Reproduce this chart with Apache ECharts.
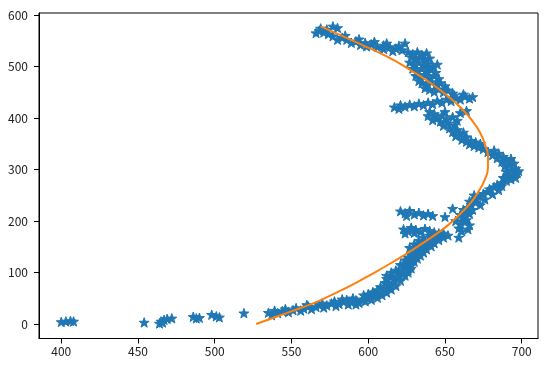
<!DOCTYPE html>
<html>
<head>
<meta charset="utf-8">
<script src="https://cdn.jsdelivr.net/npm/echarts@6/dist/echarts.min.js"></script>
<style>
html,body{margin:0;padding:0;background:#fff;}
#chart{width:555px;height:375px;}
</style>
</head>
<body>
<div id="chart"></div>
<script>
// Tick labels
const xTicks = [400, 450, 500, 550, 600, 650, 700];
const yTicks = [0, 100, 200, 300, 400, 500, 600];

// Scatter points (x, y)
const stragglers = [[400,4],[403,5],[406,6],[408,5],[454,3],[464,1],[465,5],[467,8],[469,10],[472,11],[466,3],
  [486,14],[488,11],[490,12],[498,18],[501,15],[503,13],[519,21]];
const lowerBand = [[535,22],[537,17],[539,26],[541,21],[544,25],[546,29],[548,23],[551,27],[553,31],[556,26],[558,30],
  [561,34],[563,29],[566,33],[568,37],[571,32],[573,36],[576,40],[579,35],[581,39],[584,43],[587,38],[589,42],[592,46],[594,41],
  [596,48],[598,44],[600,52],[602,47],[604,55],[606,51],[607,60],[609,56],[610,65],[612,61],[613,70],[615,67],[614,76],[616,80],
  [618,74],[617,86],[619,90],[621,84],[620,96],[622,100],[624,94],[622,106],[624,112],[626,105],
  [625,118],[628,114],[627,124],[630,121],[629,130],[632,127],[631,136],[634,133],[633,142],[636,139],[635,148],[638,145],
  [638,154],[641,151],[640,160],[643,157],[643,166],[646,163],[646,171],[649,168],[649,176],[652,172],[628,136],[631,145],
  [634,152],[637,160],[626,129],[659,168],
  [583,48],[590,50],[597,56],[603,62],[608,72],[611,80],[615,92],[618,104],[621,115],[624,124],[627,148],[630,155],
  [633,162],[636,168],[640,172],[612,88],[606,66],[600,58],[592,38],[586,47],[578,44],[570,40],[560,37],[615,100],
  [626,100],[628,108],[612,94]];
const middleArms = [[623,184],[626,180],[628,187],[631,183],[634,179],[637,185],[640,181],[643,178],[646,176],[624,176],[630,177],
  [621,219],[624,215],[627,220],[630,213],[633,216],[636,211],[639,214],[642,210],[625,210],[650,208],[655,224],
  [657,200],[660,194],[663,198],[666,192],[659,186],[662,206],[665,184],[661,180],[664,202]];
const peakBand = [[660,212],[663,216],[666,214],[662,222],[665,226],[668,222],[667,232],[670,236],[673,231],[670,243],[673,247],
  [676,242],[675,253],[678,257],[681,252],[679,262],[682,266],[685,260],[684,270],[687,268],[666,238],[669,250],
  [687,274],[690,278],[693,281],[688,284],[691,287],[694,290],[697,293],[690,296],[693,299],[696,302],[689,306],[692,309],
  [695,312],[687,315],[690,318],[693,321],[684,322],[688,325],[681,328],[685,331],[678,334],[682,337],[696,284],[698,297],
  [675,340],[672,343],[669,346],[666,349],[673,350],[670,353],[667,356],[664,354],[661,358],[664,363],[660,368],[657,365],
  [662,372],[658,377],[655,373],[653,380],[656,386],[652,390],[649,385],[647,393],[651,398],[645,400],[642,396],[648,405],
  [643,408],[639,404],[640,412],[655,402],[660,410],[664,414],[658,395],[650,412]];
const upperArm = [[617,421],[620,418],[621,425],[624,422],[627,426],[630,423],[633,428],[636,425],[639,430],[642,427],[645,433],
  [648,430],[651,436],[654,433],[657,439],[660,436],[663,442],[666,438],[668,441],[662,446],[656,444]];
const upperClump = [[626,528],[629,524],[632,528],[635,522],[638,526],[628,518],[631,514],[634,518],[637,512],[640,516],[627,508],
  [630,504],[633,508],[636,502],[639,506],[642,500],[629,496],[632,492],[635,496],[638,490],[641,494],[644,488],[631,482],
  [634,478],[637,484],[640,478],[643,482],[646,476],[635,468],[638,464],[641,470],[644,464],[647,468],[650,462],[640,455],
  [643,451],[646,456],[649,450],[652,454],[655,448],[637,458],[633,472],[639,498],[645,504]];
const topBand = [[622,532],[618,535],[614,538],[610,541],[606,538],[602,543],[598,546],[595,542],[592,549],[589,546],[586,552],
  [583,556],[580,552],[577,559],[574,563],[571,566],[568,569],[566,565],[569,574],[573,572],[577,578],[580,575],[616,530],
  [610,534],[604,548],[612,545],[585,560],[594,553],[599,539],[620,540],[624,545]];

// Fitted curve, points
const curveX = [527,541,555,568,580,592,603,613,623,633,643,652,660,667,672,676,678,678,676,673,668,661,652,641,628,613,596,569];
const curveY = [0,15,30,45,62,80,98,115,133,152,172,192,214,236,258,281,304,326,349,371,394,418,442,467,492,518,542,578];

const scatterData = [].concat(stragglers, lowerBand, middleArms, peakBand, upperArm, upperClump, topBand);
const curveData = curveX.map((x, i) => [x, curveY[i]]);

const star = 'path://M0,-10L2.35,-3.24L9.51,-3.09L3.8,1.24L5.88,8.09L0,4L-5.88,8.09L-3.8,1.24L-9.51,-3.09L-2.35,-3.24Z';
const font = '"Noto Sans CJK SC", "Liberation Sans", sans-serif';

const chart = echarts.init(document.getElementById('chart'), null, {renderer: 'canvas'});
chart.setOption({
  animation: false,
  backgroundColor: '#fff',
  grid: {left: 39, right: 17, top: 13, bottom: 36.5, show: true, borderColor: '#000', borderWidth: 1,
    backgroundColor: 'transparent', containLabel: false, outerBoundsMode: 'none'},
  xAxis: {
    type: 'value', min: 385.5, max: 710.6,
    axisLine: {show: true, onZero: false, lineStyle: {color: '#000', width: 1}},
    axisTick: {show: true, length: 5, customValues: xTicks, lineStyle: {color: '#000'}},
    axisLabel: {show: true, customValues: xTicks, margin: 7, color: '#222', fontSize: 12, fontFamily: font},
    splitLine: {show: false}
  },
  yAxis: {
    type: 'value', min: -28.2, max: 603.9,
    axisLine: {show: true, onZero: false, lineStyle: {color: '#000', width: 1}},
    axisTick: {show: true, length: 5, customValues: yTicks, lineStyle: {color: '#000'}},
    axisLabel: {show: true, customValues: yTicks, margin: 11, color: '#222', fontSize: 12, fontFamily: font},
    splitLine: {show: false}
  },
  series: [
    {type: 'scatter', data: scatterData, symbol: star, symbolSize: 10, symbolKeepAspect: true,
      itemStyle: {color: '#1f77b4', borderColor: '#1f77b4', borderWidth: 1, opacity: 1}, silent: true},
    {type: 'line', data: curveData, smooth: 0.5, showSymbol: false, symbol: 'none',
      lineStyle: {color: '#ff7f0e', width: 2}, silent: true, z: 3}
  ]
});
</script>
</body>
</html>
